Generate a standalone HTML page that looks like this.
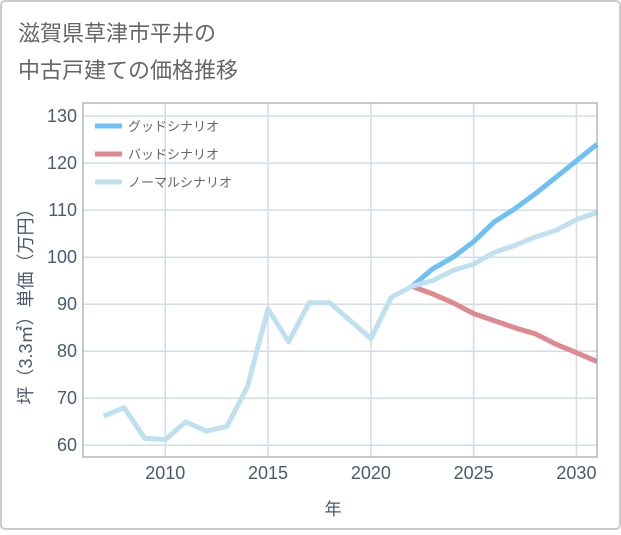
<!DOCTYPE html>
<html><head><meta charset="utf-8"><style>
body{margin:0;background:#fff;font-family:"Liberation Sans","Noto Sans CJK JP",sans-serif}
#wrap{position:relative;width:621px;height:530px}
</style></head><body>
<div id="wrap">
<svg id="svg" width="621" height="530" xmlns="http://www.w3.org/2000/svg" font-family="Liberation Sans, Noto Sans CJK JP, sans-serif">
<rect x="1" y="1" width="619" height="528" rx="4" fill="#fff" stroke="#ccc" stroke-width="2"/>
<text x="18" y="41" font-size="22" fill="#666">滋賀県草津市平井の</text>
<text x="18" y="78" font-size="22" fill="#666">中古戸建ての価格推移</text>
<g id="grid"></g>
<g id="series"></g>
<rect x="83" y="103" width="514" height="354" fill="none" stroke="#8a94a0" stroke-width="1"/>
<g id="ticks" font-size="18" fill="#4a5a70"></g>
<text transform="translate(32,302) rotate(-90)" text-anchor="middle" font-size="18" fill="#4a5a70">坪（3.3㎡）単価（万円）</text>
<text x="333" y="515" text-anchor="middle" font-size="17" fill="#4a5a70">年</text>
<g id="legend" font-size="13" fill="#666"></g>
</svg>
</div>
<script>
const years=[2007,2008,2009,2010,2011,2012,2013,2014,2015,2016,2017,2018,2019,2020,2021,2022,2023,2024,2025,2026,2027,2028,2029,2030,2031];
const normalValues=[66.2,68,61.5,61.2,65,63,64,72.5,89,82,90.3,90.3,86.5,82.7,91.5,93.8,95,97.2,98.5,101,102.5,104.3,105.7,108,109.5];
const goodYears=[2022,2023,2024,2025,2026,2027,2028,2029,2030,2031];
const goodValues=[93.8,97.5,100,103.3,107.5,110.3,113.5,117,120.5,124];
const badValues=[93.8,92.2,90.3,88,86.5,85,83.7,81.5,79.7,77.8];
const yTicks=[60,70,80,90,100,110,120,130];
const xTicks=[2010,2015,2020,2025,2030];
const NS="http://www.w3.org/2000/svg";
const X0=83,X1=597,Y0=457,Y1=103,XMIN=2006,XMAX=2031,YMIN=57.5,YMAX=132.8;
const xs=v=>X0+(v-XMIN)/(XMAX-XMIN)*(X1-X0);
const ys=v=>Y0-(v-YMIN)/(YMAX-YMIN)*(Y0-Y1);
function mk(t,a,p){const e=document.createElementNS(NS,t);for(const k in a)e.setAttribute(k,a[k]);p.appendChild(e);return e;}
const grid=document.getElementById('grid'),ticks=document.getElementById('ticks'),ser=document.getElementById('series'),leg=document.getElementById('legend');
yTicks.forEach(v=>{
const l=mk('line',{x1:X0,x2:X1,y1:ys(v),y2:ys(v),stroke:'#d2dde8','stroke-width':1.5},grid);


const t=mk('text',{x:77,y:ys(v)+6,'text-anchor':'end'},ticks);t.textContent=v;


});
xTicks.forEach(v=>{
const l=mk('line',{x1:xs(v),x2:xs(v),y1:Y1,y2:Y0,stroke:'#d2dde8','stroke-width':1.5},grid);


const t=mk('text',{x:xs(v),y:479,'text-anchor':'middle'},ticks);t.textContent=v;


});
function line(xv,yv,color,name){
const p=mk('polyline',{points:xv.map((x,i)=>xs(x)+','+ys(yv[i])).join(' '),fill:'none',stroke:color,'stroke-width':5,'stroke-linejoin':'round'},ser);


}
line(goodYears,badValues,'#de8990','bad-scenario-line');
line(goodYears,goodValues,'#6ec0f5','good-scenario-line');
line(years,normalValues,'#bfe0ef','normal-scenario-line');
const legItems=[['グッドシナリオ','#6ec0f5'],['バッドシナリオ','#de8990'],['ノーマルシナリオ','#bfe0ef']];
legItems.forEach((it,i)=>{
const y=126+i*28;
const g=mk('g',{},leg);


mk('line',{x1:95,x2:122,y1:y,y2:y,stroke:it[1],'stroke-width':5},g);
const t=mk('text',{x:128,y:y+5},g);t.textContent=it[0];
});
</script>
</body></html>
